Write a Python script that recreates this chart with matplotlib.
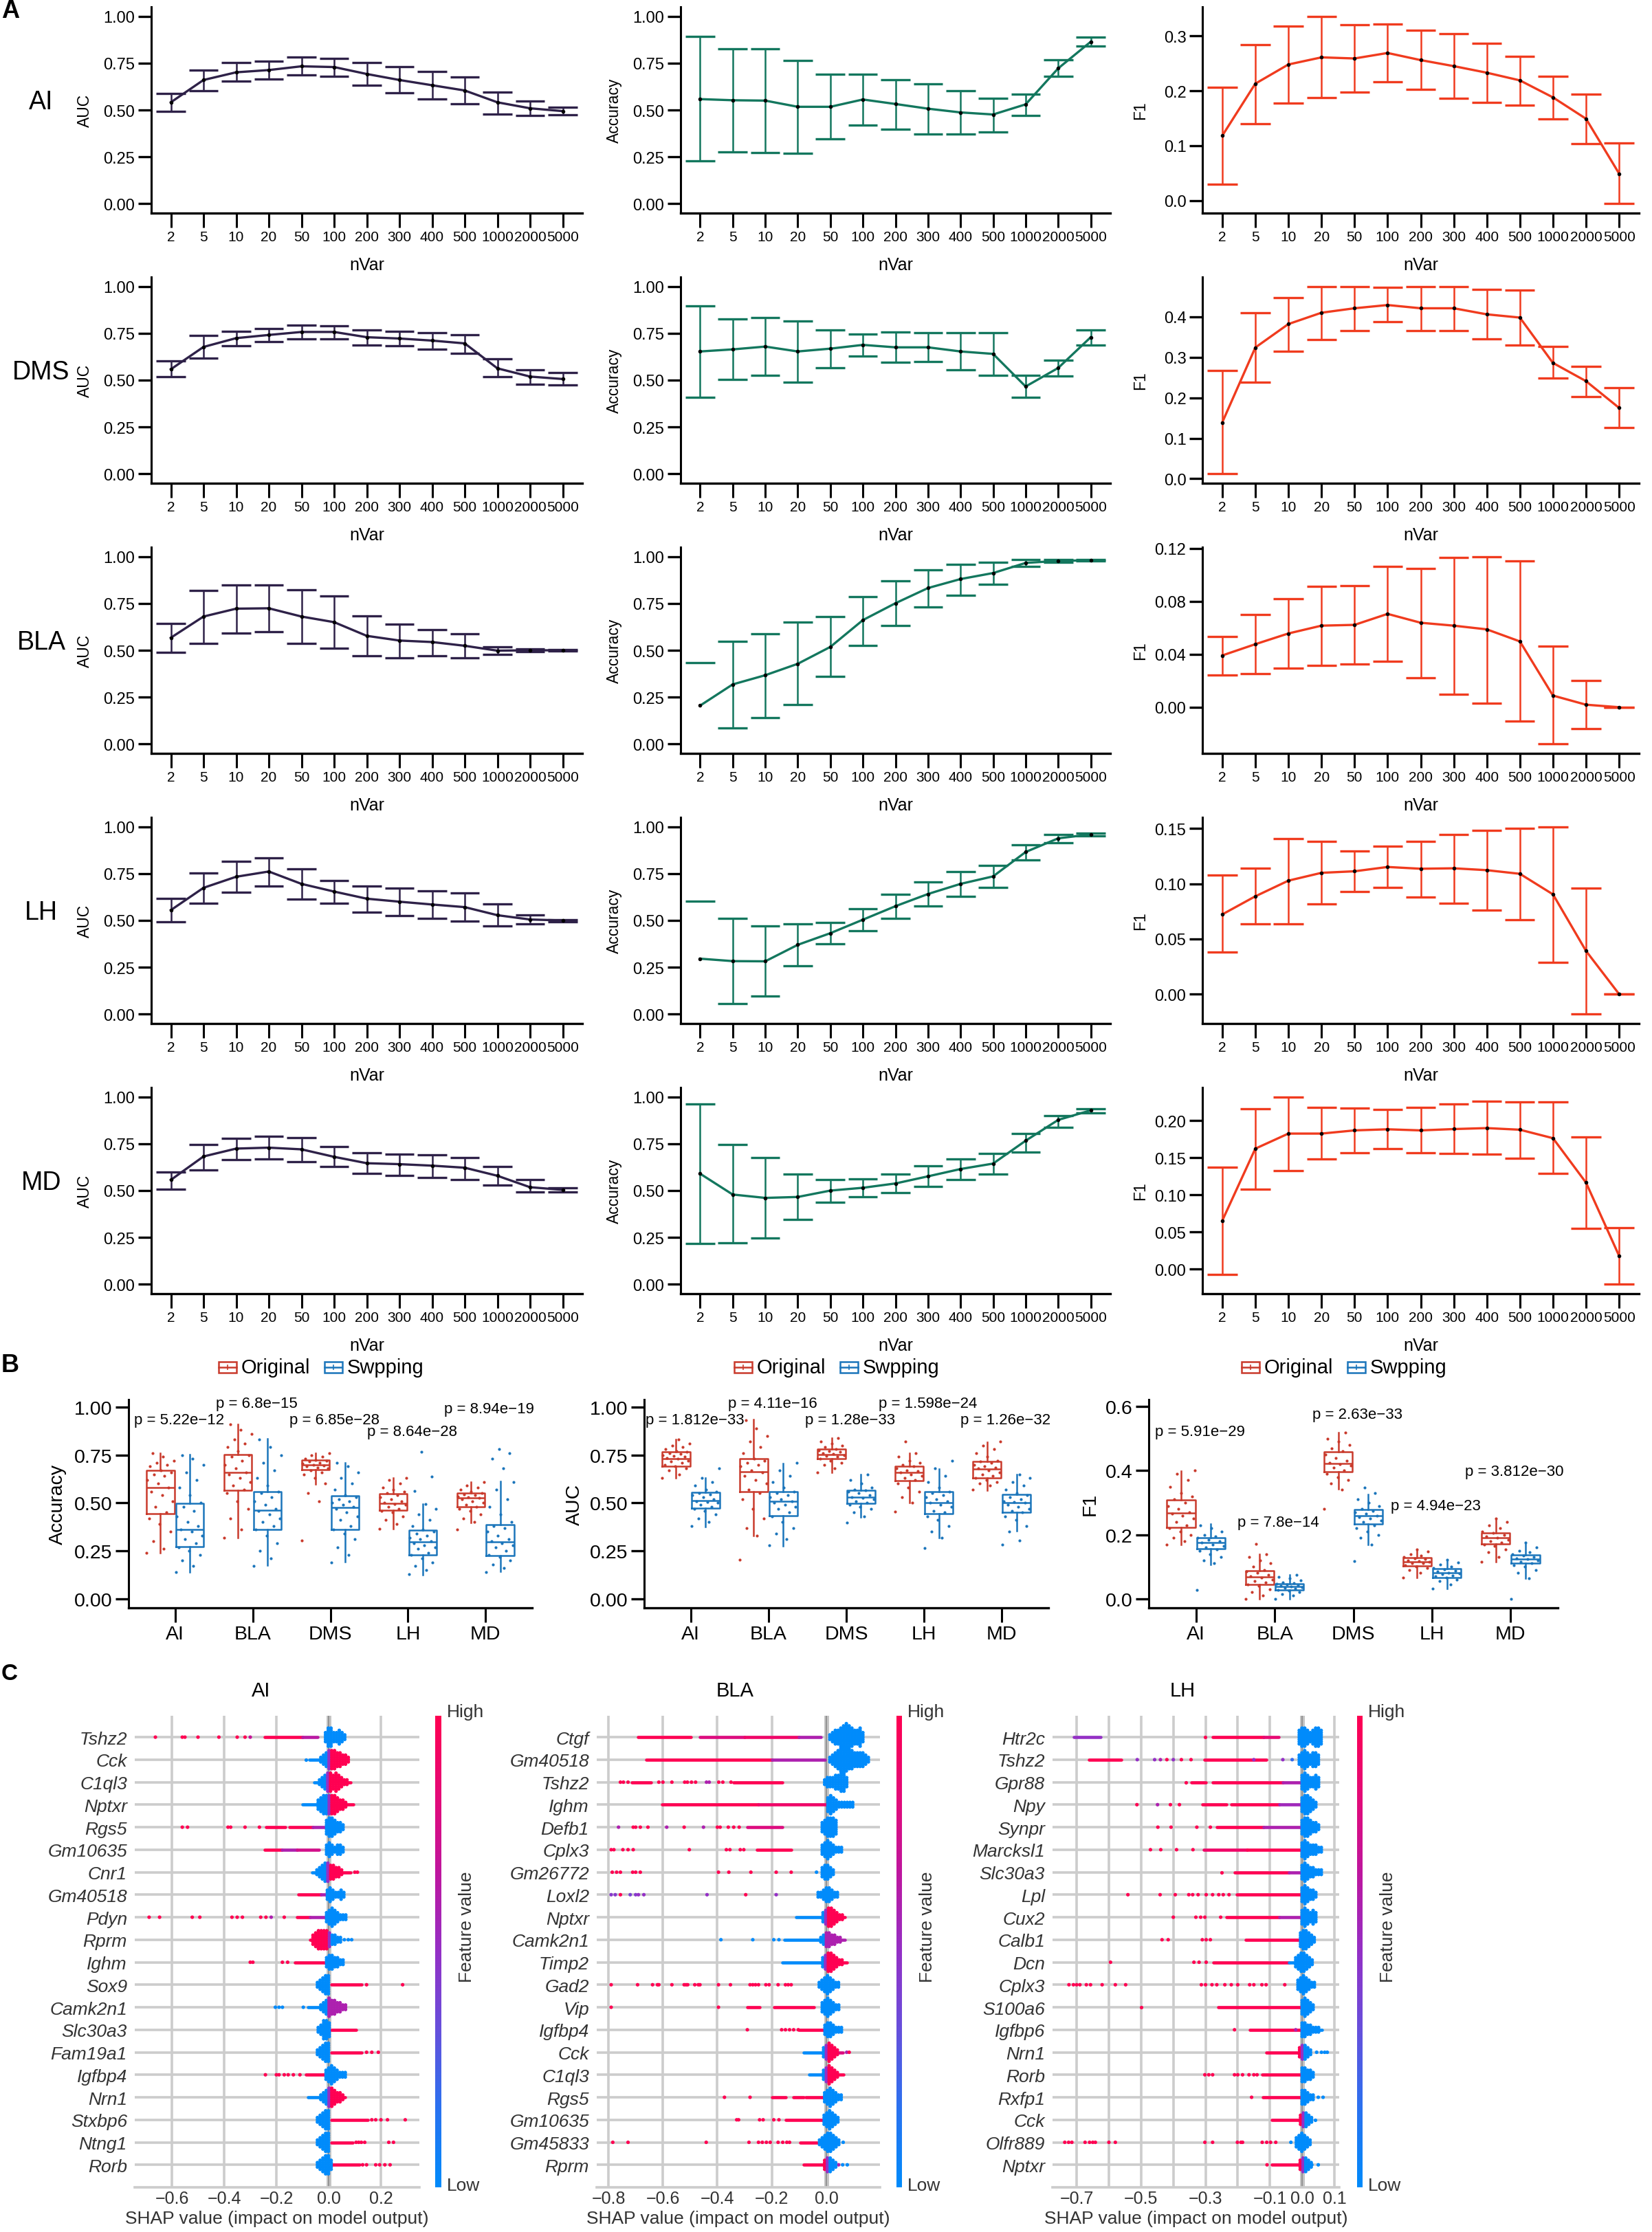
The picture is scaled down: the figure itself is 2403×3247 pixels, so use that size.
import numpy as np
import matplotlib
matplotlib.use("Agg")
import matplotlib.pyplot as plt
from matplotlib.colors import LinearSegmentedColormap
from matplotlib.patches import Rectangle
from matplotlib.lines import Line2D

plt.rcParams['font.family'] = ['Liberation Sans', 'DejaVu Sans']

# ======================= Panel A data =======================
nvar_labels = ['2', '5', '10', '20', '50', '100', '200', '300', '400', '500', '1000', '2000', '5000']
region_rows = ['AI', 'DMS', 'BLA', 'LH', 'MD']
metric_names = ['AUC', 'Accuracy', 'F1']
score_ticks = [0.0, 0.25, 0.50, 0.75, 1.00]
score_tick_labels = ['0.00', '0.25', '0.50', '0.75', '1.00']

ai_auc_mean = [0.541, 0.660, 0.701, 0.713, 0.733, 0.729, 0.692, 0.660, 0.632, 0.604, 0.541, 0.509, 0.494]
ai_auc_lo = [0.491, 0.603, 0.653, 0.664, 0.687, 0.681, 0.632, 0.591, 0.560, 0.534, 0.478, 0.472, 0.474]
ai_auc_hi = [0.588, 0.713, 0.752, 0.761, 0.784, 0.776, 0.752, 0.731, 0.705, 0.677, 0.597, 0.549, 0.515]
ai_acc_mean = [0.558, 0.552, 0.550, 0.517, 0.517, 0.556, 0.532, 0.507, 0.487, 0.476, 0.530, 0.722, 0.864]
ai_acc_lo = [0.228, 0.276, 0.274, 0.269, 0.345, 0.420, 0.397, 0.373, 0.373, 0.384, 0.472, 0.679, 0.840]
ai_acc_hi = [0.892, 0.826, 0.826, 0.765, 0.690, 0.690, 0.662, 0.640, 0.601, 0.562, 0.584, 0.769, 0.888]
ai_f1_mean = [0.118, 0.213, 0.248, 0.261, 0.259, 0.269, 0.256, 0.245, 0.233, 0.219, 0.188, 0.149, 0.049]
ai_f1_lo = [0.029, 0.140, 0.177, 0.187, 0.198, 0.216, 0.202, 0.186, 0.179, 0.174, 0.149, 0.103, -0.006]
ai_f1_hi = [0.207, 0.284, 0.318, 0.336, 0.320, 0.322, 0.310, 0.304, 0.287, 0.263, 0.227, 0.194, 0.105]

dms_auc_mean = [0.558, 0.677, 0.724, 0.741, 0.757, 0.757, 0.729, 0.722, 0.711, 0.696, 0.563, 0.519, 0.506]
dms_auc_lo = [0.517, 0.619, 0.685, 0.705, 0.720, 0.720, 0.687, 0.685, 0.664, 0.644, 0.517, 0.479, 0.476]
dms_auc_hi = [0.601, 0.737, 0.759, 0.774, 0.793, 0.791, 0.767, 0.759, 0.754, 0.743, 0.612, 0.554, 0.539]
dms_acc_mean = [0.653, 0.664, 0.679, 0.653, 0.668, 0.688, 0.675, 0.675, 0.653, 0.640, 0.466, 0.565, 0.729]
dms_acc_lo = [0.410, 0.504, 0.524, 0.489, 0.565, 0.627, 0.597, 0.599, 0.554, 0.524, 0.410, 0.522, 0.688]
dms_acc_hi = [0.896, 0.825, 0.834, 0.817, 0.769, 0.746, 0.756, 0.752, 0.752, 0.752, 0.524, 0.608, 0.767]
dms_f1_mean = [0.139, 0.324, 0.382, 0.410, 0.421, 0.429, 0.421, 0.421, 0.406, 0.398, 0.286, 0.241, 0.175]
dms_f1_lo = [0.012, 0.238, 0.315, 0.344, 0.365, 0.387, 0.365, 0.366, 0.346, 0.330, 0.248, 0.203, 0.126]
dms_f1_hi = [0.267, 0.410, 0.448, 0.475, 0.475, 0.472, 0.475, 0.475, 0.468, 0.466, 0.327, 0.277, 0.225]

bla_auc_mean = [0.567, 0.680, 0.722, 0.724, 0.680, 0.650, 0.577, 0.552, 0.544, 0.524, 0.498, 0.500, 0.500]
bla_auc_lo = [0.488, 0.537, 0.591, 0.598, 0.538, 0.512, 0.470, 0.461, 0.471, 0.461, 0.477, 0.491, 0.496]
bla_auc_hi = [0.644, 0.818, 0.848, 0.849, 0.823, 0.788, 0.684, 0.638, 0.611, 0.587, 0.517, 0.506, 0.504]
bla_acc_mean = [0.205, 0.318, 0.367, 0.428, 0.518, 0.661, 0.751, 0.832, 0.880, 0.912, 0.966, 0.977, 0.980]
bla_acc_lo = [-0.025, 0.085, 0.141, 0.209, 0.361, 0.524, 0.633, 0.732, 0.795, 0.852, 0.946, 0.970, 0.976]
bla_acc_hi = [0.435, 0.548, 0.587, 0.650, 0.679, 0.785, 0.870, 0.928, 0.959, 0.971, 0.983, 0.985, 0.985]
bla_f1_mean = [0.0391, 0.0476, 0.0557, 0.0616, 0.0622, 0.0705, 0.0638, 0.0616, 0.0588, 0.0497, 0.0088, 0.0019, 0.0]
bla_f1_lo = [0.0245, 0.0252, 0.0295, 0.0314, 0.0328, 0.0348, 0.0221, 0.0097, 0.0029, -0.0107, -0.0278, -0.0164, 0.0]
bla_f1_hi = [0.0536, 0.0698, 0.0819, 0.0914, 0.0919, 0.1064, 0.1050, 0.1131, 0.1138, 0.1103, 0.0460, 0.0200, 0.0]

lh_auc_mean = [0.555, 0.674, 0.733, 0.761, 0.695, 0.654, 0.616, 0.600, 0.585, 0.571, 0.528, 0.505, 0.500]
lh_auc_lo = [0.494, 0.590, 0.649, 0.685, 0.613, 0.590, 0.545, 0.526, 0.512, 0.496, 0.471, 0.480, 0.494]
lh_auc_hi = [0.617, 0.752, 0.816, 0.835, 0.774, 0.713, 0.682, 0.674, 0.659, 0.645, 0.587, 0.530, 0.505]
lh_acc_mean = [0.296, 0.283, 0.282, 0.370, 0.432, 0.504, 0.576, 0.641, 0.695, 0.735, 0.865, 0.938, 0.959]
lh_acc_lo = [-0.009, 0.055, 0.095, 0.259, 0.374, 0.446, 0.510, 0.578, 0.629, 0.677, 0.821, 0.916, 0.951]
lh_acc_hi = [0.601, 0.510, 0.472, 0.482, 0.489, 0.561, 0.640, 0.704, 0.760, 0.795, 0.905, 0.957, 0.966]
lh_f1_mean = [0.0722, 0.0886, 0.1028, 0.1099, 0.1113, 0.1152, 0.1136, 0.1140, 0.1123, 0.1090, 0.0904, 0.0391, 0.0]
lh_f1_lo = [0.0381, 0.0637, 0.0637, 0.0815, 0.0927, 0.0964, 0.0877, 0.0823, 0.0764, 0.0672, 0.0290, -0.0182, 0.0]
lh_f1_hi = [0.1076, 0.1142, 0.1408, 0.1381, 0.1299, 0.1341, 0.1386, 0.1448, 0.1485, 0.1502, 0.1517, 0.0962, 0.0]

md_auc_mean = [0.557, 0.682, 0.724, 0.729, 0.720, 0.680, 0.646, 0.641, 0.633, 0.622, 0.579, 0.518, 0.504]
md_auc_lo = [0.506, 0.610, 0.665, 0.667, 0.654, 0.628, 0.593, 0.580, 0.568, 0.559, 0.528, 0.491, 0.491]
md_auc_hi = [0.600, 0.745, 0.780, 0.790, 0.783, 0.733, 0.700, 0.695, 0.691, 0.677, 0.630, 0.559, 0.515]
md_acc_mean = [0.590, 0.479, 0.461, 0.466, 0.500, 0.515, 0.538, 0.576, 0.615, 0.644, 0.766, 0.877, 0.928]
md_acc_lo = [0.216, 0.221, 0.248, 0.345, 0.439, 0.467, 0.489, 0.522, 0.559, 0.587, 0.705, 0.838, 0.915]
md_acc_hi = [0.963, 0.744, 0.677, 0.589, 0.560, 0.561, 0.589, 0.632, 0.670, 0.698, 0.804, 0.898, 0.938]
md_f1_mean = [0.0651, 0.1622, 0.1825, 0.1825, 0.1868, 0.1883, 0.1868, 0.1886, 0.1899, 0.1877, 0.1763, 0.1164, 0.0178]
md_f1_lo = [-0.0071, 0.1072, 0.1330, 0.1487, 0.1567, 0.1619, 0.1567, 0.1561, 0.1548, 0.1496, 0.1284, 0.0550, -0.0206]
md_f1_hi = [0.1370, 0.2160, 0.2320, 0.2175, 0.2169, 0.2154, 0.2181, 0.2224, 0.2260, 0.2252, 0.2252, 0.1782, 0.0559]

f1_ticks = [[0.0, 0.1, 0.2, 0.3], [0.0, 0.1, 0.2, 0.3, 0.4], [0.0, 0.04, 0.08, 0.12],
            [0.0, 0.05, 0.10, 0.15], [0.0, 0.05, 0.10, 0.15, 0.20]]
f1_tick_labels = [['0.0', '0.1', '0.2', '0.3'], ['0.0', '0.1', '0.2', '0.3', '0.4'],
                  ['0.00', '0.04', '0.08', '0.12'], ['0.00', '0.05', '0.10', '0.15'],
                  ['0.00', '0.05', '0.10', '0.15', '0.20']]

# ======================= Panel B data =======================
b_groups = ['AI', 'BLA', 'DMS', 'LH', 'MD']
b_metrics = ['Accuracy', 'AUC', 'F1']
legend_labels = ['Original', 'Swpping']
# box stats: (lower whisker, q1, median, q3, upper whisker)
acc_orig_box = [(0.240, 0.443, 0.581, 0.669, 0.760), (0.320, 0.565, 0.659, 0.753, 0.910), (0.599, 0.673, 0.697, 0.723, 0.760),
                (0.365, 0.461, 0.497, 0.547, 0.632), (0.398, 0.479, 0.525, 0.551, 0.608)]
acc_swap_box = [(0.138, 0.273, 0.363, 0.497, 0.754), (0.174, 0.362, 0.463, 0.558, 0.836), (0.192, 0.363, 0.475, 0.539, 0.710),
                (0.126, 0.230, 0.296, 0.357, 0.495), (0.144, 0.225, 0.297, 0.388, 0.611)]
auc_orig_box = [(0.629, 0.691, 0.731, 0.765, 0.832), (0.329, 0.558, 0.663, 0.729, 0.934), (0.659, 0.729, 0.754, 0.780, 0.838),
                (0.501, 0.617, 0.659, 0.691, 0.760), (0.565, 0.631, 0.677, 0.715, 0.817)]
auc_swap_box = [(0.377, 0.471, 0.513, 0.554, 0.632), (0.275, 0.434, 0.507, 0.558, 0.707), (0.425, 0.497, 0.529, 0.565, 0.650),
                (0.317, 0.444, 0.503, 0.558, 0.677), (0.353, 0.451, 0.502, 0.543, 0.647)]
f1_orig_box = [(0.168, 0.223, 0.267, 0.309, 0.398), (0.0, 0.045, 0.069, 0.088, 0.140), (0.342, 0.397, 0.422, 0.458, 0.518),
               (0.066, 0.102, 0.116, 0.129, 0.154), (0.115, 0.172, 0.190, 0.205, 0.251)]
f1_swap_box = [(0.107, 0.156, 0.175, 0.191, 0.233), (0.0, 0.027, 0.038, 0.047, 0.075), (0.168, 0.234, 0.259, 0.279, 0.326),
               (0.032, 0.066, 0.080, 0.093, 0.122), (0.064, 0.110, 0.123, 0.137, 0.175)]

acc_orig_pts = [
    [0.24, 0.26, 0.30, 0.35, 0.39, 0.42, 0.45, 0.48, 0.51, 0.54, 0.56, 0.58, 0.60, 0.62, 0.64, 0.65, 0.66, 0.67, 0.69, 0.70, 0.71, 0.72, 0.74, 0.76],
    [0.32, 0.36, 0.42, 0.47, 0.51, 0.55, 0.57, 0.59, 0.61, 0.63, 0.65, 0.66, 0.68, 0.70, 0.72, 0.74, 0.75, 0.77, 0.79, 0.81, 0.83, 0.86, 0.88, 0.91],
    [0.305, 0.51, 0.55, 0.60, 0.63, 0.65, 0.66, 0.67, 0.68, 0.685, 0.69, 0.695, 0.70, 0.705, 0.71, 0.715, 0.72, 0.725, 0.73, 0.74, 0.75, 0.76],
    [0.365, 0.39, 0.41, 0.43, 0.45, 0.46, 0.47, 0.48, 0.49, 0.495, 0.50, 0.51, 0.52, 0.53, 0.54, 0.55, 0.56, 0.57, 0.58, 0.60, 0.62, 0.63],
    [0.362, 0.40, 0.42, 0.44, 0.46, 0.47, 0.48, 0.49, 0.50, 0.51, 0.52, 0.525, 0.53, 0.535, 0.54, 0.545, 0.55, 0.56, 0.57, 0.58, 0.59, 0.61]]
acc_swap_pts = [
    [0.14, 0.17, 0.20, 0.23, 0.25, 0.27, 0.29, 0.31, 0.33, 0.35, 0.36, 0.38, 0.40, 0.43, 0.46, 0.48, 0.50, 0.54, 0.58, 0.62, 0.66, 0.70, 0.73, 0.75],
    [0.17, 0.21, 0.25, 0.29, 0.33, 0.36, 0.38, 0.40, 0.42, 0.44, 0.46, 0.47, 0.49, 0.51, 0.53, 0.55, 0.56, 0.59, 0.63, 0.67, 0.71, 0.75, 0.79, 0.83],
    [0.19, 0.23, 0.27, 0.31, 0.34, 0.36, 0.38, 0.41, 0.43, 0.45, 0.47, 0.48, 0.49, 0.50, 0.51, 0.52, 0.53, 0.54, 0.57, 0.60, 0.63, 0.66, 0.69, 0.71],
    [0.13, 0.15, 0.17, 0.19, 0.21, 0.23, 0.24, 0.26, 0.27, 0.28, 0.29, 0.30, 0.31, 0.32, 0.33, 0.34, 0.35, 0.36, 0.38, 0.41, 0.44, 0.47, 0.495, 0.563, 0.637, 0.767],
    [0.14, 0.16, 0.18, 0.20, 0.22, 0.23, 0.25, 0.27, 0.28, 0.29, 0.30, 0.31, 0.33, 0.35, 0.37, 0.38, 0.40, 0.44, 0.48, 0.52, 0.57, 0.61, 0.68, 0.73, 0.76, 0.78]]
auc_orig_pts = [
    [0.63, 0.65, 0.67, 0.68, 0.69, 0.70, 0.71, 0.715, 0.72, 0.73, 0.735, 0.74, 0.745, 0.75, 0.755, 0.76, 0.765, 0.77, 0.78, 0.79, 0.80, 0.81, 0.83],
    [0.204, 0.33, 0.37, 0.42, 0.47, 0.52, 0.55, 0.57, 0.60, 0.62, 0.64, 0.66, 0.67, 0.69, 0.70, 0.71, 0.72, 0.73, 0.76, 0.79, 0.82, 0.85, 0.89, 0.93],
    [0.66, 0.68, 0.70, 0.71, 0.72, 0.73, 0.74, 0.745, 0.75, 0.755, 0.76, 0.765, 0.77, 0.775, 0.78, 0.79, 0.80, 0.81, 0.82, 0.84],
    [0.455, 0.50, 0.53, 0.56, 0.58, 0.60, 0.62, 0.63, 0.64, 0.65, 0.66, 0.665, 0.67, 0.68, 0.69, 0.70, 0.71, 0.72, 0.74, 0.76, 0.82],
    [0.57, 0.59, 0.60, 0.61, 0.62, 0.63, 0.64, 0.65, 0.66, 0.67, 0.68, 0.685, 0.69, 0.70, 0.71, 0.715, 0.72, 0.74, 0.76, 0.78, 0.80, 0.82]]
auc_swap_pts = [
    [0.38, 0.40, 0.42, 0.44, 0.46, 0.47, 0.48, 0.49, 0.50, 0.505, 0.51, 0.52, 0.53, 0.54, 0.545, 0.55, 0.56, 0.57, 0.59, 0.61, 0.63, 0.68],
    [0.28, 0.31, 0.34, 0.37, 0.40, 0.43, 0.45, 0.47, 0.48, 0.49, 0.50, 0.51, 0.52, 0.53, 0.54, 0.55, 0.56, 0.58, 0.61, 0.64, 0.67, 0.71],
    [0.398, 0.43, 0.45, 0.47, 0.48, 0.49, 0.50, 0.51, 0.52, 0.525, 0.53, 0.54, 0.55, 0.56, 0.565, 0.57, 0.58, 0.60, 0.62, 0.65],
    [0.266, 0.32, 0.35, 0.38, 0.41, 0.43, 0.45, 0.46, 0.48, 0.49, 0.50, 0.51, 0.52, 0.53, 0.54, 0.55, 0.56, 0.58, 0.61, 0.64, 0.68, 0.72],
    [0.281, 0.305, 0.35, 0.38, 0.41, 0.43, 0.45, 0.46, 0.47, 0.48, 0.49, 0.50, 0.505, 0.51, 0.52, 0.53, 0.54, 0.55, 0.57, 0.59, 0.61, 0.63, 0.65]]
f1_orig_pts = [
    [0.17, 0.18, 0.19, 0.20, 0.21, 0.22, 0.23, 0.24, 0.25, 0.26, 0.265, 0.27, 0.28, 0.29, 0.30, 0.31, 0.32, 0.33, 0.35, 0.37, 0.39, 0.40],
    [0.0, 0.01, 0.02, 0.03, 0.04, 0.045, 0.05, 0.055, 0.06, 0.065, 0.07, 0.075, 0.08, 0.085, 0.09, 0.10, 0.11, 0.12, 0.13, 0.14, 0.172],
    [0.281, 0.34, 0.36, 0.37, 0.38, 0.39, 0.40, 0.41, 0.415, 0.42, 0.425, 0.43, 0.44, 0.45, 0.46, 0.47, 0.48, 0.49, 0.50, 0.52],
    [0.066, 0.08, 0.09, 0.095, 0.10, 0.105, 0.11, 0.112, 0.115, 0.118, 0.12, 0.123, 0.126, 0.13, 0.135, 0.14, 0.147, 0.154],
    [0.115, 0.13, 0.145, 0.155, 0.165, 0.17, 0.175, 0.18, 0.185, 0.19, 0.195, 0.20, 0.205, 0.21, 0.22, 0.23, 0.24, 0.251]]
f1_swap_pts = [
    [0.027, 0.11, 0.12, 0.13, 0.14, 0.15, 0.155, 0.16, 0.165, 0.17, 0.175, 0.18, 0.185, 0.19, 0.195, 0.20, 0.21, 0.22, 0.23],
    [0.0, 0.01, 0.015, 0.02, 0.025, 0.028, 0.031, 0.034, 0.036, 0.038, 0.04, 0.042, 0.044, 0.046, 0.048, 0.052, 0.057, 0.063, 0.069, 0.075],
    [0.117, 0.17, 0.19, 0.20, 0.21, 0.22, 0.23, 0.24, 0.245, 0.25, 0.255, 0.26, 0.265, 0.27, 0.275, 0.28, 0.29, 0.30, 0.31, 0.33, 0.347],
    [0.032, 0.045, 0.055, 0.06, 0.065, 0.07, 0.073, 0.076, 0.079, 0.082, 0.085, 0.088, 0.091, 0.095, 0.10, 0.106, 0.113, 0.122],
    [0.0, 0.064, 0.08, 0.09, 0.10, 0.105, 0.11, 0.115, 0.12, 0.123, 0.127, 0.13, 0.135, 0.14, 0.145, 0.15, 0.16, 0.175]]

acc_pvals = ['5.22e\u221212', '6.8e\u221215', '6.85e\u221228', '8.64e\u221228', '8.94e\u221219']
auc_pvals = ['1.812e\u221233', '4.11e\u221216', '1.28e\u221233', '1.598e\u221224', '1.26e\u221232']
f1_pvals = ['5.91e\u221229', '7.8e\u221214', '2.63e\u221233', '4.94e\u221223', '3.812e\u221230']
f1_b_ticks = [0.0, 0.2, 0.4, 0.6]
f1_b_tick_labels = ['0.0', '0.2', '0.4', '0.6']

# ======================= Panel C data (SHAP) =======================
shap_titles = ['AI', 'BLA', 'LH']
ai_genes = ['Tshz2', 'Cck', 'C1ql3', 'Nptxr', 'Rgs5', 'Gm10635', 'Cnr1', 'Gm40518', 'Pdyn', 'Rprm',
            'Ighm', 'Sox9', 'Camk2n1', 'Slc30a3', 'Fam19a1', 'Igfbp4', 'Nrn1', 'Stxbp6', 'Ntng1', 'Rorb']
ai_core_x0 = [-0.012, -0.03, -0.035, -0.04, -0.008, -0.008, -0.045, -0.005, -0.008, -0.06,
              -0.008, -0.043, -0.03, -0.04, -0.043, -0.01, -0.03, -0.043, -0.043, -0.043]
ai_core_n = [[2, 4, 4, 2, 2, 3, 2, 1], [1, 2, 3, 4, 4, 4, 3, 3, 2, 2, 1], [1, 2, 3, 4, 4, 3, 4, 3, 2, 1, 1],
             [2, 3, 4, 4, 4, 4, 4, 3, 2, 2, 1], [3, 4, 4, 3, 2, 2, 1], [2, 3, 2, 1, 2, 2, 1],
             [1, 2, 3, 4, 4, 3, 3, 2, 2, 1], [2, 3, 2, 1, 1, 2, 1], [2, 3, 4, 3, 2, 1, 1, 1],
             [2, 3, 4, 4, 4, 4, 3, 2, 2, 1, 1], [2, 3, 3, 2, 2, 1, 1], [1, 2, 3, 4, 4],
             [1, 2, 3, 4, 3, 3, 2, 2, 1, 1], [1, 2, 4, 4, 3], [1, 2, 3, 4, 4], [2, 3, 4, 3, 2, 1, 1, 1],
             [1, 2, 3, 4, 4, 3, 2, 2, 1], [1, 2, 3, 4, 4], [1, 2, 3, 4, 4], [1, 2, 3, 4, 4, 2]]
ai_core_side = [0, 1, 1, 1, 0, 0, 1, 0, 0, -1, 0, 0, 2, 0, 0, 0, 1, 0, 0, 0]
ai_runs = [[(-0.244, -0.10, 1.0), (-0.10, -0.043, 0.65)], [(-0.075, -0.03, 0.0)],
           [(-0.056, -0.035, 0.0), (0.07, 0.085, 1.0)], [(-0.10, -0.04, 0.0), (0.065, 0.094, 1.0)],
           [(-0.24, -0.165, 1.0), (-0.15, -0.06, 1.0), (-0.06, -0.016, 0.6)],
           [(-0.244, -0.18, 1.0), (-0.18, -0.12, 0.6), (-0.12, -0.036, 0.75)],
           [(-0.063, -0.045, 0.0), (0.05, 0.085, 1.0)], [(-0.117, -0.03, 1.0), (-0.03, -0.01, 0.6)],
           [(-0.12, -0.07, 1.0), (-0.07, -0.016, 0.6)], [(-0.07, -0.06, 1.0)], [(-0.13, -0.016, 1.0)],
           [(0.01, 0.125, 1.0)], [(-0.08, -0.03, 0.0)], [(0.01, 0.105, 1.0)], [(0.01, 0.125, 1.0)],
           [(-0.087, -0.016, 1.0)], [(-0.079, -0.03, 0.0), (0.055, 0.064, 1.0)], [(0.01, 0.15, 1.0)],
           [(0.01, 0.091, 1.0)], [(0.01, 0.118, 1.0)]]
ai_dots = [[-0.663, -0.56, -0.55, -0.50, -0.42, -0.35, -0.32, (-0.30, 0.7)], [(-0.087, 0.0)], [], [],
           [-0.56, -0.54, -0.385, -0.375, -0.32, -0.265], [], [0.10, 0.11], [],
           [-0.687, -0.647, -0.522, -0.493, -0.37, -0.35, -0.33, -0.26, -0.24, (-0.22, 0.6), -0.17],
           [(0.06, 0.0), (0.075, 0.0), (0.088, 0.0)], [-0.30, -0.29, -0.177, -0.157], [0.145, 0.283],
           [(-0.204, 0.0), (-0.19, 0.0), (-0.177, 0.0), (-0.097, 0.0)], [], [0.145, 0.165, 0.19],
           [-0.242, -0.20, -0.19, -0.17, -0.155, -0.135, -0.11], [], [0.165, 0.18, 0.20, 0.225, 0.293],
           [0.105, 0.115, 0.125, 0.138, 0.23, 0.248], [0.13, 0.145, 0.18, 0.195, 0.215, 0.235]]

bla_genes = ['Ctgf', 'Gm40518', 'Tshz2', 'Ighm', 'Defb1', 'Cplx3', 'Gm26772', 'Loxl2', 'Nptxr', 'Camk2n1',
             'Timp2', 'Gad2', 'Vip', 'Igfbp4', 'Cck', 'C1ql3', 'Rgs5', 'Gm10635', 'Gm45833', 'Rprm']
bla_core_x0 = [0.013, 0.013, -0.006, 0.006, -0.015, -0.015, -0.015, -0.03, -0.012, -0.02,
               -0.013, -0.026, -0.015, -0.005, -0.01, -0.01, -0.006, -0.008, -0.025, -0.006]
bla_core_n = [[1, 2, 3, 3, 4, 5, 6, 5, 4, 3, 3, 4, 2], [1, 2, 3, 4, 5, 6, 5, 4, 4, 3, 3, 3, 3, 2, 1],
              [1, 2, 2, 2, 3, 3, 4, 4, 2], [3, 4, 3, 2, 1, 1, 1, 1, 1, 1], [2, 3, 4, 4, 4, 3],
              [2, 3, 4, 3, 2, 1, 1, 1], [2, 3, 3, 2, 1], [1, 1, 2, 3, 3, 2, 1, 1], [2, 3, 4, 4, 3, 2, 1, 1],
              [1, 2, 3, 3, 2, 2, 1, 1], [2, 3, 4, 4, 3, 2, 1, 1], [1, 2, 3, 4, 3, 2, 1, 1],
              [2, 3, 4, 3, 2, 1, 1], [2, 3, 3, 2, 1, 1, 1], [2, 3, 4, 3, 2, 1], [2, 3, 4, 3, 2, 1],
              [2, 3, 4, 3, 2, 1, 1], [2, 3, 4, 3, 2, 1], [1, 2, 3, 4, 4, 3, 2, 1], [2, 3, 3, 2, 1]]
bla_core_side = [0, 0, 0, 0, 0, 0, 0, 0, 1, 2, 1, 0, 0, 0, 1, 1, 0, 0, 0, -1]
bla_runs = [[(-0.692, -0.496, 1.0), (-0.464, -0.30, 0.8), (-0.30, -0.10, 0.9), (-0.10, -0.019, 0.6)],
            [(-0.66, -0.20, 1.0), (-0.20, -0.006, 0.6)], [(-0.715, -0.644, 1.0), (-0.34, -0.161, 1.0)],
            [(-0.603, -0.25, 1.0), (-0.25, 0.0, 0.9)], [(-0.29, -0.161, 0.8)], [(-0.254, -0.129, 1.0)], [], [],
            [(-0.112, -0.013, 0.0), (0.04, 0.068, 1.0)], [(-0.155, -0.02, 0.0), (0.04, 0.068, 0.6)],
            [(-0.161, -0.013, 0.0), (0.045, 0.077, 1.0)], [], [(-0.29, -0.245, 1.0), (-0.193, -0.045, 1.0)],
            [(-0.10, -0.005, 1.0), (0.02, 0.052, 0.0)], [(-0.084, -0.01, 0.0), (0.03, 0.06, 0.8)],
            [(-0.064, -0.01, 0.0), (0.03, 0.064, 1.0)],
            [(-0.20, -0.148, 1.0), (-0.122, -0.084, 1.0), (-0.075, -0.006, 1.0)], [(-0.148, -0.013, 1.0)],
            [(-0.097, -0.032, 1.0)], [(-0.084, -0.006, 1.0)]]
bla_dots = [[], [],
            [-0.756, -0.745, -0.728, -0.615, -0.60, -0.567, -0.52, -0.51, -0.495, -0.48, (-0.44, 0.6), (-0.43, 0.6), -0.395, -0.38, -0.35],
            [],
            [(-0.763, 0.6), -0.709, -0.70, -0.683, -0.655, (-0.586, 0.6), -0.522, (-0.451, 0.6), -0.40, -0.39, -0.36, -0.34, -0.32],
            [-0.79, -0.78, -0.747, -0.728, -0.709, -0.503, -0.367, -0.354, -0.316, -0.303],
            [-0.786, -0.77, -0.756, -0.711, -0.70, -0.683, -0.396, -0.358, -0.277, -0.184, -0.129, (-0.036, 0.0)],
            [(-0.79, 0.45), (-0.775, 0.45), (-0.756, 1.0), (-0.72, 0.4), (-0.70, 0.45), (-0.69, 0.5), (-0.67, 0.5), (-0.438, 0.5), -0.296, (-0.184, 0.5)],
            [], [(-0.387, 0.0), (-0.27, 0.0), (-0.193, 0.0), (-0.174, 0.0)], [],
            [-0.79, -0.693, -0.638, -0.62, -0.615, -0.567, -0.522, -0.515, -0.509, -0.483, -0.47, -0.464, -0.396, -0.352,
             -0.28, -0.27, -0.26, -0.249, -0.222, -0.21, -0.177, -0.15, -0.14, -0.129],
            [-0.79, -0.396], [-0.29, -0.164, -0.15, -0.135, -0.12, -0.103], [(0.075, 0.6), (0.084, 1.0)], [],
            [-0.374, -0.28], [-0.329, -0.322, -0.245, -0.232, -0.193, -0.174],
            [-0.784, -0.728, -0.441, -0.284, -0.249, -0.235, -0.22, -0.206, -0.177, -0.16, -0.145, -0.135, (0.062, 0.0)],
            [(0.019, 0.0), (0.03, 0.0), (0.045, 0.6), (0.06, 0.0), (0.077, 0.0)]]

lh_genes = ['Htr2c', 'Tshz2', 'Gpr88', 'Npy', 'Synpr', 'Marcksl1', 'Slc30a3', 'Lpl', 'Cux2', 'Calb1',
            'Dcn', 'Cplx3', 'S100a6', 'Igfbp6', 'Nrn1', 'Rorb', 'Rxfp1', 'Cck', 'Olfr889', 'Nptxr']
lh_core_x0 = [-0.009, -0.009, 0.0, 0.0, 0.0, 0.0, 0.0, 0.0, 0.0, -0.005,
              -0.02, -0.013, 0.0, 0.0, -0.008, 0.0, 0.0, -0.005, -0.018, -0.006]
lh_core_n = [[3, 4, 4, 3, 2, 3, 4, 4, 3], [2, 3, 4, 3, 2, 3, 3, 2], [3, 4, 3, 2, 2, 3, 2], [3, 4, 4, 3, 2, 1],
             [3, 4, 4, 3, 2, 2, 1], [3, 4, 3, 2, 2, 2, 1, 1], [3, 4, 3, 2, 2, 1, 1, 1], [3, 4, 3, 2, 2, 1],
             [3, 4, 3, 2, 3, 2], [3, 4, 4, 3, 2, 1], [2, 3, 4, 4, 3, 2, 1], [2, 3, 4, 3, 2, 1, 1],
             [3, 4, 3, 2, 1], [3, 3, 2, 2, 1, 1, 1], [2, 3, 3, 2, 1], [3, 3, 2, 2, 1], [3, 3, 2, 1, 1],
             [2, 3, 3, 2, 1], [2, 3, 4, 3, 2, 1], [2, 3, 3, 2, 1]]
lh_core_side = [0, 0, 0, 0, 0, 0, 0, 0, 0, 0, 0, 0, 0, 0, -1, 0, 0, -1, 0, -1]
lh_runs = [[(-0.708, -0.625, 0.5), (-0.278, -0.12, 1.0), (-0.12, -0.073, 0.85)],
           [(-0.661, -0.561, 1.0), (-0.304, -0.112, 1.0)],
           [(-0.343, -0.298, 1.0), (-0.278, -0.06, 1.0), (-0.06, -0.005, 0.6)],
           [(-0.31, -0.234, 1.0), (-0.22, -0.07, 1.0), (-0.07, -0.005, 0.55)],
           [(-0.265, -0.12, 1.0), (-0.12, -0.005, 0.6)], [(-0.305, -0.17, 0.9), (-0.17, -0.005, 1.0)],
           [(-0.21, -0.04, 1.0), (-0.04, -0.005, 0.6)], [(-0.203, -0.005, 1.0)],
           [(-0.235, -0.07, 1.0), (-0.07, -0.005, 0.6)], [(-0.176, -0.005, 1.0)],
           [(-0.275, -0.04, 1.0), (-0.04, -0.02, 0.0)], [], [(-0.26, -0.005, 1.0)],
           [(-0.163, -0.005, 1.0), (0.04, 0.062, 0.0)], [(-0.112, -0.005, 1.0)], [(-0.125, -0.005, 1.0)],
           [(-0.122, -0.005, 1.0)], [(-0.095, -0.005, 1.0)], [], [(-0.095, -0.005, 1.0)]]
lh_dots = [[-0.302],
           [(-0.512, 0.5), (-0.458, 0.5), (-0.44, 0.6), -0.42, (-0.40, 0.5), -0.375, -0.345, (-0.15, 0.5), (-0.06, 0.5), (-0.031, 0.2)],
           [-0.362], [-0.513, (-0.449, 0.6), -0.409, -0.381], [-0.448, -0.407, -0.327, -0.285],
           [-0.471, -0.439, -0.39, -0.339], [-0.249],
           [-0.541, -0.441, -0.394, -0.352, -0.34, -0.323, -0.298, -0.278, -0.259, -0.245, -0.227],
           [-0.40, -0.33, -0.315, -0.302, -0.253], [-0.435, -0.416, -0.31, -0.298, -0.285],
           [-0.595, -0.336, -0.32, -0.298],
           [-0.724, -0.71, -0.70, -0.69, -0.67, -0.657, -0.621, -0.58, -0.548, -0.313, -0.30, -0.28, -0.265,
            -0.24, -0.22, -0.20, -0.163, -0.15, -0.125, -0.112, -0.054],
           [-0.50], [-0.21, (-0.02, 0.6)], [(0.045, 0.0), (0.06, 0.0), (0.07, 0.0), (0.078, 0.0)],
           [-0.302, -0.29, -0.278, -0.21, -0.20, -0.185, -0.165, -0.15, -0.14],
           [-0.157, (0.05, 0.0), (0.065, 0.0)], [(0.04, 0.0)],
           [-0.737, -0.725, -0.715, -0.674, -0.66, -0.65, -0.642, -0.60, -0.58, -0.302, -0.278, -0.201, -0.19,
            -0.185, -0.124, -0.11, -0.098, -0.082, (-0.035, 0.0)],
           [-0.109, (0.03, 0.0), (0.05, 0.0)]]

ai_xticks = [-0.6, -0.4, -0.2, 0.0, 0.2]
bla_xticks = [-0.8, -0.6, -0.4, -0.2, 0.0]
lh_xticks = [-0.7, -0.5, -0.3, -0.1, 0.0, 0.1]
lh_xgrid_extra = [-0.6, -0.4, -0.2]

# ======================= figure helpers =======================
W, H, DPI = 2403, 3248, 100
fig = plt.figure(figsize=(W / DPI, H / DPI), dpi=DPI)
fig.patch.set_facecolor('white')


def add_ax(x0, y0, x1, y1):
    return fig.add_axes([x0 / W, 1 - y1 / H, (x1 - x0) / W, (y1 - y0) / H])


def ftext(x, y, s, **kw):
    return fig.text(x / W, 1 - y / H, s, **kw)


def style_gg(ax, yfs, xfs):
    ax.spines['top'].set_visible(False)
    ax.spines['right'].set_visible(False)
    ax.spines['left'].set_linewidth(2.2)
    ax.spines['bottom'].set_linewidth(2.4)
    ax.tick_params(axis='y', direction='out', length=14, width=2.4, pad=3, labelsize=yfs, colors='black')
    ax.tick_params(axis='x', direction='out', length=15, width=2.2, pad=3, labelsize=xfs, colors='black')
    ax.set_facecolor('none')


def fmt_minus(v):
    s = '%.1f' % v
    return s.replace('-', '\u2212')


# ======================= Panel A =======================
A_COLS = [(220, 847), (990, 1615), (1749, 2384)]
A_COLORS = ['#2E2148', '#13775E', '#F03B1E']
A_YLAB_OFF = [97, 97, 90]
xs = np.arange(1, len(nvar_labels) + 1)
rows_data = [
    [(ai_auc_mean, ai_auc_lo, ai_auc_hi), (ai_acc_mean, ai_acc_lo, ai_acc_hi), (ai_f1_mean, ai_f1_lo, ai_f1_hi)],
    [(dms_auc_mean, dms_auc_lo, dms_auc_hi), (dms_acc_mean, dms_acc_lo, dms_acc_hi), (dms_f1_mean, dms_f1_lo, dms_f1_hi)],
    [(bla_auc_mean, bla_auc_lo, bla_auc_hi), (bla_acc_mean, bla_acc_lo, bla_acc_hi), (bla_f1_mean, bla_f1_lo, bla_f1_hi)],
    [(lh_auc_mean, lh_auc_lo, lh_auc_hi), (lh_acc_mean, lh_acc_lo, lh_acc_hi), (lh_f1_mean, lh_f1_lo, lh_f1_hi)],
    [(md_auc_mean, md_auc_lo, md_auc_hi), (md_acc_mean, md_acc_lo, md_acc_hi), (md_f1_mean, md_f1_lo, md_f1_hi)],
]

ftext(2, 16, 'A', fontsize=26, fontweight='bold', ha='left', va='center')
for r in range(len(region_rows)):
    top = 11 + 393 * r
    bot = 311 + 393 * r
    ftext(60, (top + bot) / 2 - 12, region_rows[r], fontsize=27, ha='center', va='center')
    for c in range(3):
        x0, x1 = A_COLS[c]
        ax = add_ax(x0, top, x1, bot)
        mean, lo, hi = [np.asarray(v, float) for v in rows_data[r][c]]
        col = A_COLORS[c]
        bounded = c < 2
        cap = 0.45
        for x, l, h in zip(xs, lo, hi):
            ax.plot([x - cap, x + cap], [h, h], color=col, lw=2.4, solid_capstyle='butt', zorder=2)
            if bounded and l < 0:
                continue
            ax.plot([x, x], [l, h], color=col, lw=1.8, zorder=2)
            ax.plot([x - cap, x + cap], [l, l], color=col, lw=2.4, solid_capstyle='butt', zorder=2)
        ax.plot(xs, mean, color=col, lw=2.4, zorder=3)
        ax.scatter(xs, mean, s=16, color='black', zorder=4, linewidths=0)
        ax.set_xlim(0.4, len(xs) + 0.6)
        if bounded:
            ax.set_ylim(-0.05, 1.05)
            ax.set_yticks(score_ticks)
            ax.set_yticklabels(score_tick_labels)
        else:
            lo_all = min(lo.min(), mean.min())
            hi_all = max(hi.max(), mean.max())
            pad = 0.05 * (hi_all - lo_all)
            ax.set_ylim(lo_all - pad, hi_all + pad)
            ax.set_yticks(f1_ticks[r])
            ax.set_yticklabels(f1_tick_labels[r])
        ax.set_xticks(xs)
        ax.set_xticklabels(nvar_labels)
        style_gg(ax, 17, 15)
        ax.set_xlabel('nVar', fontsize=18)
        ax.xaxis.label.set_va('center')
        ax.xaxis.set_label_coords(0.5, -75 / 300)
        ax.set_ylabel(metric_names[c], fontsize=16.5)
        ax.yaxis.label.set_va('center')
        ax.yaxis.set_label_coords(-A_YLAB_OFF[c] / (x1 - x0), 0.5)

# ======================= Panel B =======================
B_COLS = [(187, 774), (937, 1525), (1671, 2266)]
B_TOP, B_BOT = 2037, 2340
ORIG_C, SWAP_C = '#C93A2C', '#1B75BB'
b_boxes = [(acc_orig_box, acc_swap_box), (auc_orig_box, auc_swap_box), (f1_orig_box, f1_swap_box)]
b_points = [(acc_orig_pts, acc_swap_pts), (auc_orig_pts, auc_swap_pts), (f1_orig_pts, f1_swap_pts)]
b_pvals = [acc_pvals, auc_pvals, f1_pvals]
b_p_y = [[0.932, 1.021, 0.932, 0.874, 0.989], [0.932, 1.021, 0.932, 1.021, 0.932], [0.523, 0.238, 0.576, 0.290, 0.397]]
b_ylims = [(-0.047, 1.039), (-0.047, 1.039), (-0.0285, 0.622)]
b_ylab_off = [103, 101, 85]

ftext(2, 1987, 'B', fontsize=26, fontweight='bold', ha='left', va='center')
gx = np.arange(1, len(b_groups) + 1)
for c in range(3):
    x0, x1 = B_COLS[c]
    ax = add_ax(x0, B_TOP, x1, B_BOT)
    for k, (col, shift) in enumerate([(ORIG_C, -0.19), (SWAP_C, 0.19)]):
        stats = [dict(whislo=s[0], q1=s[1], med=s[2], q3=s[3], whishi=s[4], fliers=[]) for s in b_boxes[c][k]]
        ax.bxp(stats, positions=gx + shift, widths=0.36, showfliers=False, showcaps=False,
               boxprops=dict(color=col, lw=1.8), medianprops=dict(color=col, lw=1.8),
               whiskerprops=dict(color=col, lw=1.8), manage_ticks=False, zorder=2)
        for g, pts in enumerate(b_points[c][k]):
            n = len(pts)
            offs = np.array([((i * 0.618034) % 1.0) - 0.5 for i in range(n)]) * 0.36
            ax.scatter(gx[g] + shift + offs, pts, s=9, color=col, linewidths=0, zorder=3)
    for g in range(len(b_groups)):
        ax.text(gx[g] + 0.05, b_p_y[c][g], 'p = ' + b_pvals[c][g], ha='center', va='center', fontsize=16)
    ax.set_xlim(0.4, len(b_groups) + 0.6)
    ax.set_ylim(*b_ylims[c])
    if c < 2:
        ax.set_yticks(score_ticks)
        ax.set_yticklabels(score_tick_labels)
    else:
        ax.set_yticks(f1_b_ticks)
        ax.set_yticklabels(f1_b_tick_labels)
    ax.set_xticks(gx)
    ax.set_xticklabels(b_groups)
    style_gg(ax, 20.5, 20.5)
    ax.set_ylabel(b_metrics[c], fontsize=20.5)
    ax.yaxis.label.set_va('center')
    ax.yaxis.set_label_coords(-b_ylab_off[c] / (x1 - x0), 0.5)
    # legend (boxplot keys)
    cx = (x0 + x1) / 2
    cy = 1990
    for label, col, dx in [(legend_labels[0], ORIG_C, -163), (legend_labels[1], SWAP_C, -9)]:
        kx = cx + dx
        fig.add_artist(Rectangle((kx / W, 1 - (cy + 8) / H), 26 / W, 16 / H, transform=fig.transFigure,
                                 fill=False, ec=col, lw=1.8))
        fig.add_artist(Line2D([kx / W, (kx + 26) / W], [1 - cy / H, 1 - cy / H], transform=fig.transFigure,
                              color=col, lw=1.8))
        fig.add_artist(Line2D([(kx + 13) / W, (kx + 13) / W], [1 - (cy + 3) / H, 1 - (cy - 3) / H],
                              transform=fig.transFigure, color=col, lw=1.2))
        ftext(kx + 33, cy, label, fontsize=21, ha='left', va='center')

# ======================= Panel C =======================
shap_cmap = LinearSegmentedColormap.from_list(
    'shap_rb', ['#008BFB', '#2A72F0', '#6650DC', '#9430C6', '#BE169F', '#E50A77', '#FF0052'])
C_AXES = [(196, 610), (868, 1280), (1531, 1948)]
C_TOP, C_BOT = 2497, 3183
C_CBAR = [(633, 642), (1304, 1312), (1974, 1982)]
C_TITLE_X = [380, 1069, 1720]
C_XLIM = [(-0.742, 0.347), (-0.843, 0.197), (-0.775, 0.115)]
C_STEP = [0.0105, 0.0101, 0.0085]
TXT_C = '#333333'

panels_c = [
    (ai_genes, ai_core_x0, ai_core_n, ai_core_side, ai_runs, ai_dots, ai_xticks, []),
    (bla_genes, bla_core_x0, bla_core_n, bla_core_side, bla_runs, bla_dots, bla_xticks, []),
    (lh_genes, lh_core_x0, lh_core_n, lh_core_side, lh_runs, lh_dots, lh_xticks, lh_xgrid_extra),
]

ftext(2, 2436, 'C', fontsize=24, fontweight='bold', ha='left', va='center')
for p, (genes, cx0, cn, cside, runs, dots, xt, xminor) in enumerate(panels_c):
    x0, x1 = C_AXES[p]
    ax = add_ax(x0, C_TOP, x1, C_BOT)
    nf = len(genes)
    ax.set_xlim(*C_XLIM[p])
    ax.set_ylim(-1.0, nf - 0.05)
    # grid
    for gxv in list(xt) + list(xminor):
        ax.axvline(gxv, color='#cccccc', lw=2.6, zorder=0)
    for i in range(nf):
        ax.axhline(nf - 1 - i, color='#cccccc', lw=2.6, zorder=0)
    ax.axvline(0, color='#c4c4c4', lw=5.0, zorder=0.5)
    ax.axvline(0, color='#8f8f8f', lw=1.3, zorder=0.6)
    step = C_STEP[p]
    for i in range(nf):
        y = nf - 1 - i
        # dense runs of overlapping points
        for (ra, rb, rc) in runs[i]:
            ax.plot([ra, rb], [y, y], color=shap_cmap(rc), lw=3.3, solid_capstyle='round', zorder=2)
        # sparse points
        dx_, dc_ = [], []
        for d in dots[i]:
            if isinstance(d, tuple):
                dx_.append(d[0]); dc_.append(d[1])
            else:
                dx_.append(d); dc_.append(1.0)
        if dx_:
            ax.scatter(dx_, [y] * len(dx_), c=dc_, cmap=shap_cmap, vmin=0, vmax=1, s=14, linewidths=0, zorder=3)
        # beeswarm core
        bx, by, bc = [], [], []
        for j, n in enumerate(cn[i]):
            xv = cx0[i] + j * step
            if cside[i] == 1:
                cval = 1.0 if xv > 0.004 else (0.5 if xv > -0.006 else 0.0)
            elif cside[i] == -1:
                cval = 1.0 if xv < -0.004 else (0.5 if xv < 0.006 else 0.0)
            elif cside[i] == 2:
                cval = 0.6 if xv > 0.0 else 0.0
            else:
                cval = 0.0
            for k in range(-n, n + 1):
                bx.append(xv); by.append(y + k * 0.1); bc.append(cval)
        ax.scatter(bx, by, c=bc, cmap=shap_cmap, vmin=0, vmax=1, s=14, linewidths=0, zorder=4)
    # axes styling
    for s in ['top', 'right', 'left']:
        ax.spines[s].set_visible(False)
    ax.spines['bottom'].set_color('#cccccc')
    ax.spines['bottom'].set_linewidth(2.6)
    ax.set_xticks(xt)
    ax.set_xticklabels([fmt_minus(v) for v in xt])
    ax.set_yticks([nf - 1 - i for i in range(nf)])
    ax.set_yticklabels(genes, fontstyle='italic')
    ax.tick_params(axis='both', length=0, colors=TXT_C)
    ax.tick_params(axis='y', pad=8, labelsize=19)
    ax.tick_params(axis='x', pad=3, labelsize=18)
    ax.set_facecolor('none')
    ax.set_xlabel('SHAP value (impact on model output)', fontsize=19, color=TXT_C)
    ax.xaxis.label.set_va('center')
    ax.xaxis.set_label_coords(0.5, -45 / (C_BOT - C_TOP))
    ftext(C_TITLE_X[p], 2460, shap_titles[p], fontsize=21, ha='center', va='center')
    # colorbar
    b0, b1 = C_CBAR[p]
    cax = add_ax(b0, C_TOP, b1, C_BOT)
    cax.imshow(np.linspace(0, 1, 256).reshape(-1, 1), aspect='auto', cmap=shap_cmap, origin='lower',
               extent=[0, 1, 0, 1])
    cax.axis('off')
    ftext(b1 + 8, 2491, 'High', fontsize=19, ha='left', va='center', color=TXT_C)
    ftext(b1 + 8, 3180, 'Low', fontsize=19, ha='left', va='center', color=TXT_C)
    ftext(b1 + 37, 2803, 'Feature value', fontsize=19, ha='center', va='center', rotation=90, color=TXT_C)

fig.savefig('out.png', dpi=DPI, facecolor='white')
